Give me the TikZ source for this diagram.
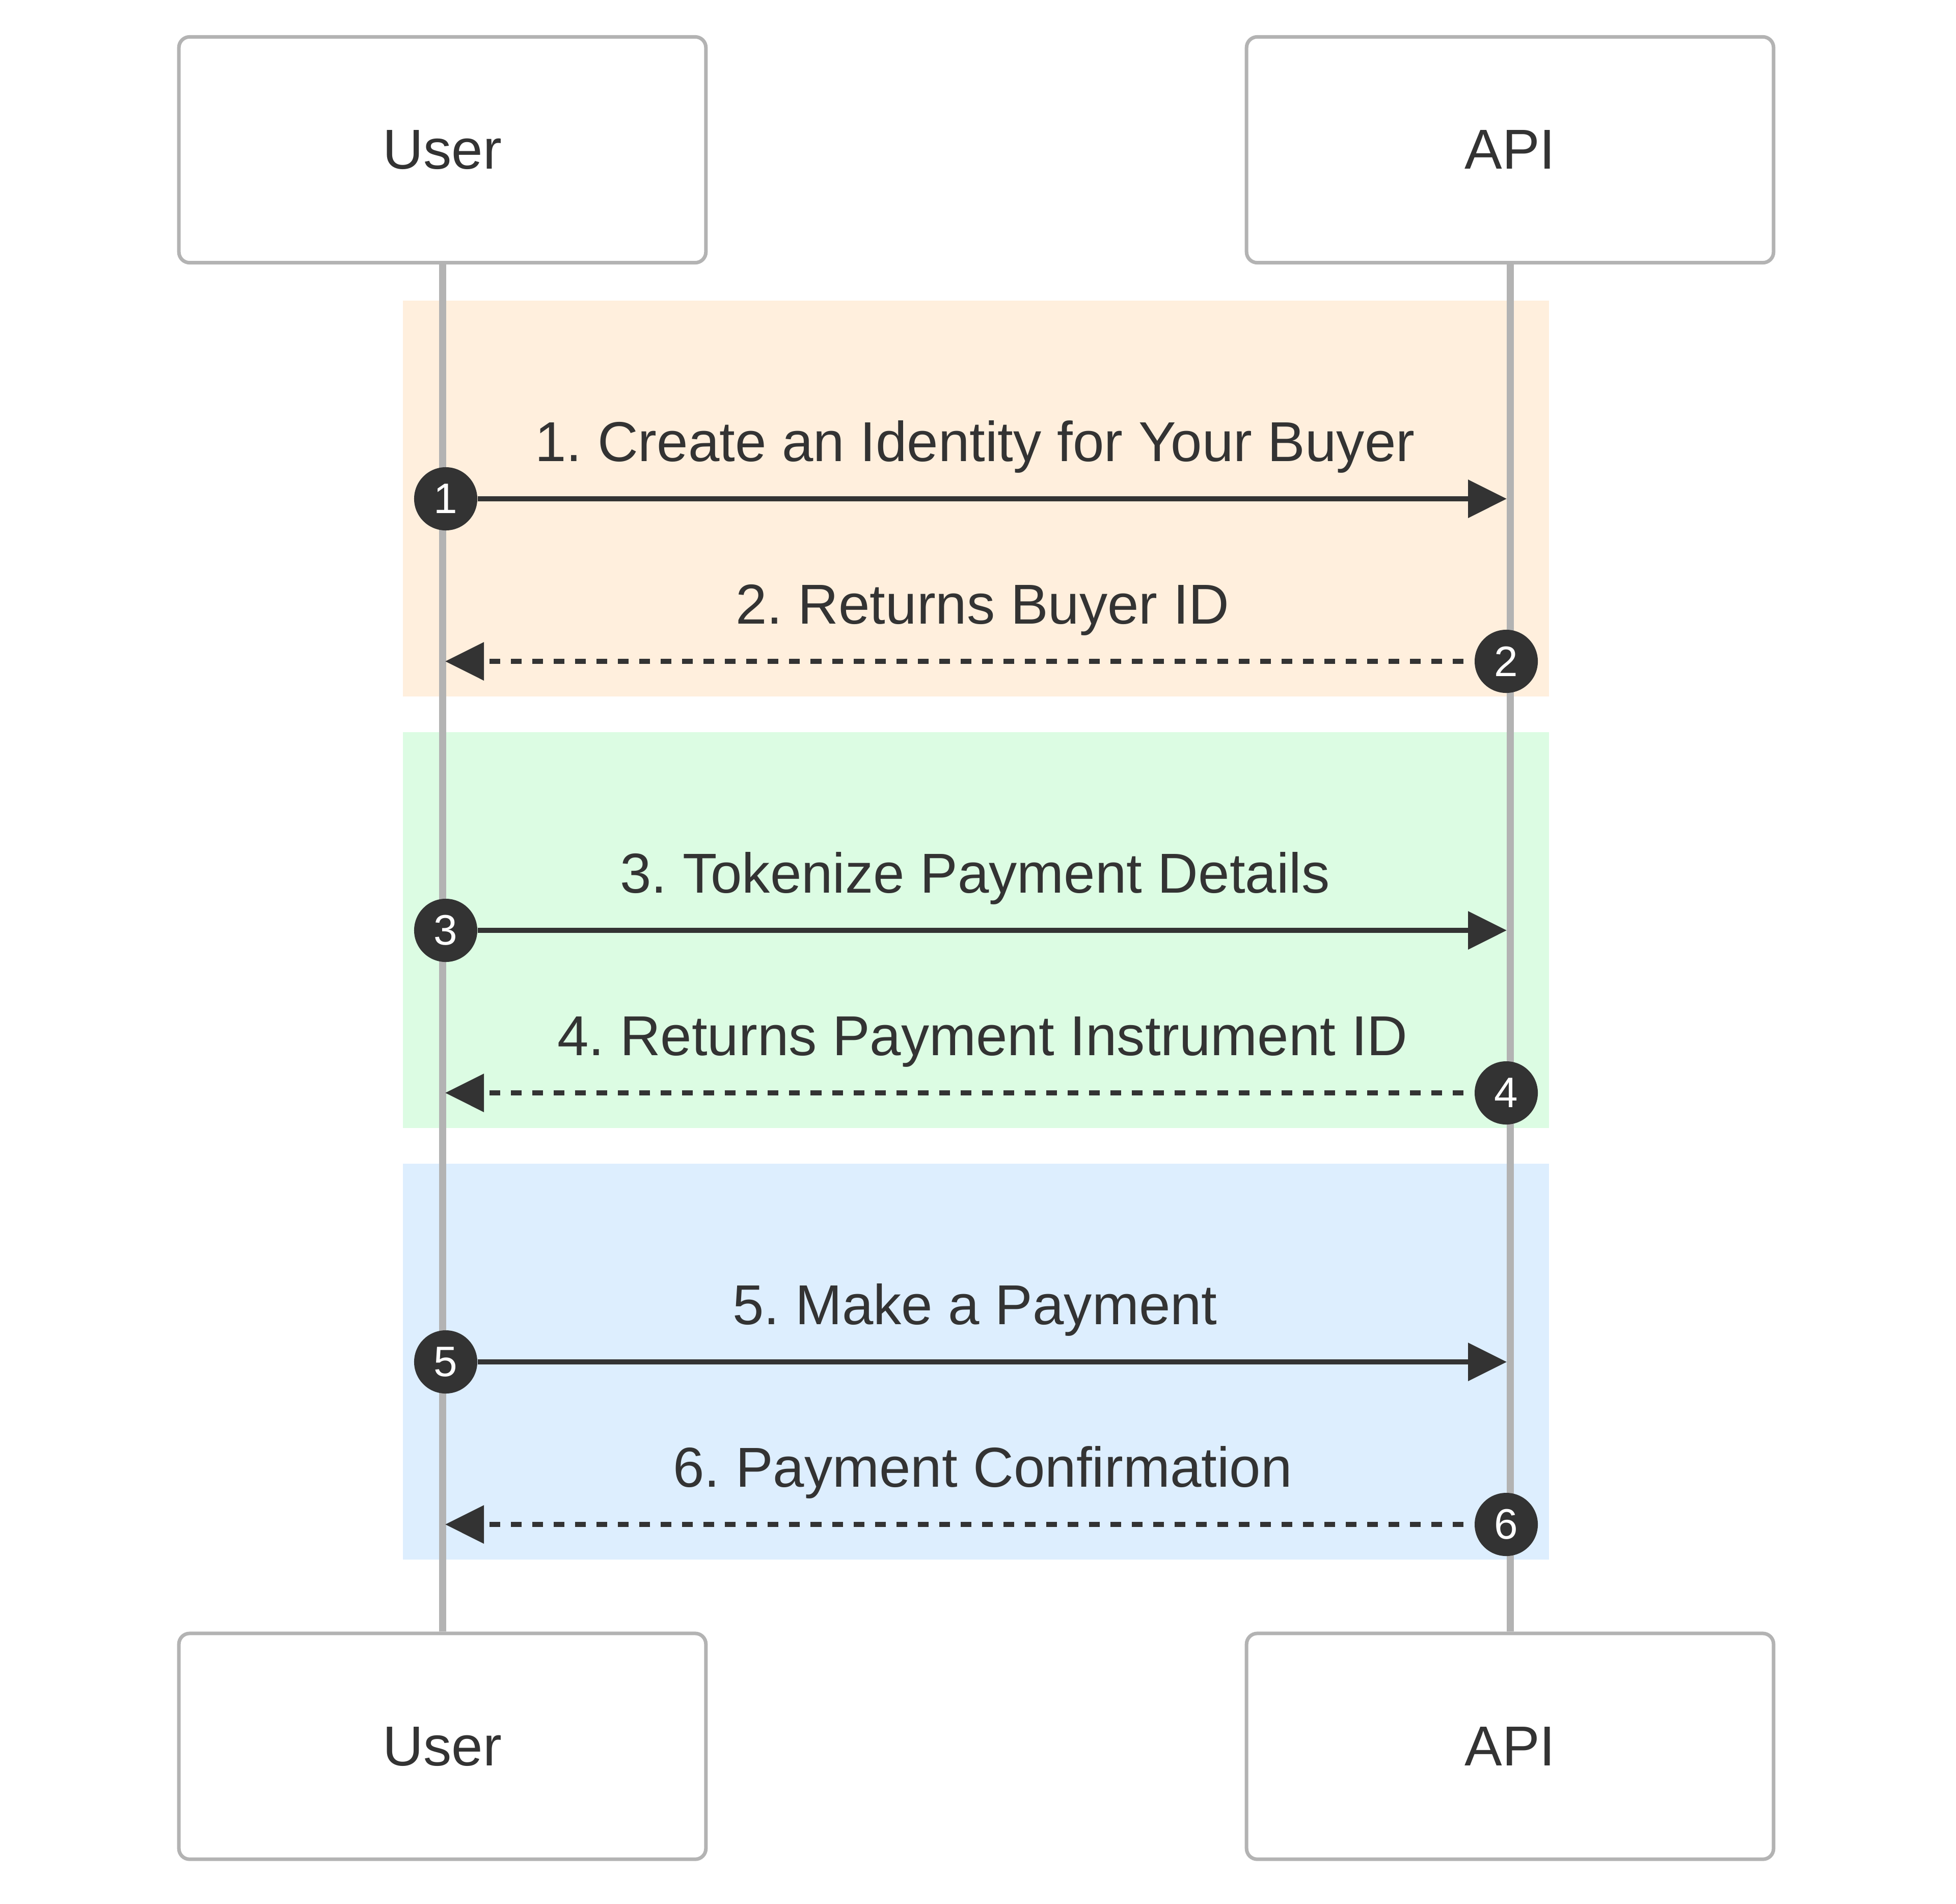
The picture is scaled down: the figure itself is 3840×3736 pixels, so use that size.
\documentclass[tikz,border=0pt]{standalone}
\usepackage{fontspec}
\setmainfont{Liberation Sans}
\usetikzlibrary{arrows.meta}
\definecolor{ink}{HTML}{333333}
\definecolor{lifegray}{HTML}{B3B3B3}
\definecolor{orangebg}{HTML}{FFEFDD}
\definecolor{greenbg}{HTML}{DCFCE3}
\definecolor{bluebg}{HTML}{DDEEFE}
\frenchspacing

\begin{document}
\begin{tikzpicture}[x=0.01cm, y=-0.01cm,
  actor/.style={draw=lifegray, line width=0.07cm, fill=white, rounded corners=0.21cm,
    minimum width=10.34cm, minimum height=4.43cm, inner sep=0, text=ink,
    font=\fontsize{31.4}{37}\selectfont},
  life/.style={draw=lifegray, line width=0.14cm},
  msg/.style={draw=ink, line width=0.1cm, -{Triangle[length=0.76cm, width=0.73cm]}},
  reply/.style={msg, dash pattern=on 0.21cm off 0.21cm, dash phase=0.21cm},
  num/.style={circle, fill=ink, minimum size=1.24cm, inner sep=0, text=white,
    font=\fontsize{23.8}{28}\selectfont},
  lbl/.style={anchor=base, inner sep=0, text=ink, font=\fontsize{31.4}{37}\selectfont}]
\useasboundingbox (0,0) rectangle (3840,3736);

\fill[orangebg] (791,590) rectangle (3041,1367);
\fill[greenbg] (791,1437) rectangle (3041,2214);
\fill[bluebg] (791,2284) rectangle (3041,3061);

\node[actor] (userTop) at (868.5,294) {User};
\node[actor] (apiTop) at (2964.5,294) {API};
\node[actor] (userBot) at (868.5,3427.5) {User};
\node[actor] (apiBot) at (2964.5,3427.5) {API};
\draw[life] (userTop.south) -- (userBot.north);
\draw[life] (apiTop.south) -- (apiBot.north);

% buyer
\node[lbl] (t1) at (1914,905) {1. Create an Identity for Your Buyer};
\node[num] (n1) at (875,979) {1};
\coordinate (e1) at (2958,979);
\draw[msg] (n1.east) -- (e1);
\node[lbl] (t2) at (1929,1224) {2. Returns Buyer ID};
\node[num] (n2) at (2957,1298) {2};
\coordinate (e2) at (874,1298);
\draw[reply] (n2.west) -- (e2);

% payment details
\node[lbl] (t3) at (1914,1752) {3. Tokenize Payment Details};
\node[num] (n3) at (875,1826) {3};
\coordinate (e3) at (2958,1826);
\draw[msg] (n3.east) -- (e3);
\node[lbl] (t4) at (1929,2071) {4. Returns Payment Instrument ID};
\node[num] (n4) at (2957,2145) {4};
\coordinate (e4) at (874,2145);
\draw[reply] (n4.west) -- (e4);

% payment
\node[lbl] (t5) at (1914,2599) {5. Make a Payment};
\node[num] (n5) at (875,2673) {5};
\coordinate (e5) at (2958,2673);
\draw[msg] (n5.east) -- (e5);
\node[lbl] (t6) at (1929,2918) {6. Payment Confirmation};
\node[num] (n6) at (2957,2992) {6};
\coordinate (e6) at (874,2992);
\draw[reply] (n6.west) -- (e6);
\end{tikzpicture}
\end{document}
